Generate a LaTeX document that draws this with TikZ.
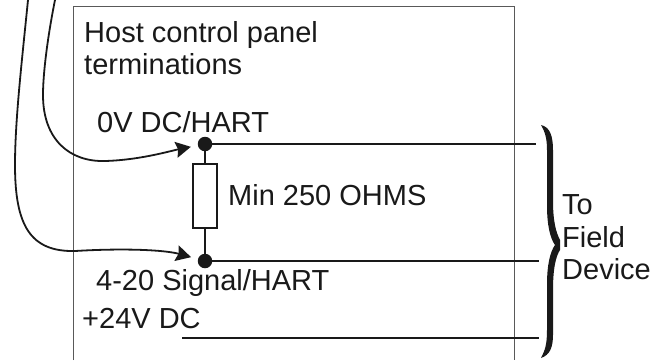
\documentclass[tikz,border=0pt]{standalone}
\usepackage{fontspec}
\setmainfont{Liberation Sans}
\usetikzlibrary{arrows.meta}
\tikzset{
    wire/.style={line width=1.8pt,color=black!90},
    lead/.style={line width=1.8pt,color=black!90,-{Stealth[length=15pt,width=16pt,inset=2pt]},shorten >=7pt},
    term/.style={circle,fill=black!90,inner sep=0pt,minimum size=14.5pt},
    label/.style={anchor=base west,inner sep=0pt,color=black!90,font=\fontsize{29}{32}\selectfont},
    res/.style={draw=black!90,line width=1.8pt,fill=white,inner sep=0pt,minimum width=24pt,minimum height=64pt}
}
\begin{document}
\begin{tikzpicture}[x=1pt,y=-1pt]
        \useasboundingbox (0,0) rectangle (665,360);
        \draw[line width=0.9pt,color=black!65] (73,360) -- (73,6) -- (514,6) -- (514,360);
        \node[label] (title) at (84,42) {Host control panel};
        \node[label] (title2) at (84,74) {terminations};
        \node[label] (zero) at (97,132) {0V DC/HART};
        \node[label] (signal) at (96,290) {4-20 Signal/HART};
        \node[label] (plus) at (82,328) {+24V DC};
        \node[label] (min) at (228,205) {Min 250 OHMS};
        \node[label] (to) at (562,214) {To};
        \node[label] (field) at (562,247) {Field};
        \node[label] (device) at (562,279) {Device};
        % terminals and resistor
        \node[term] (top) at (205,144) {};
        \node[term] (bot) at (205,261) {};
        \node[res] (r) at (205,196) {};
        \draw[wire] (top) -- (r); \draw[wire] (r) -- (bot);
        \coordinate (topend) at (536,144);
        \coordinate (botend) at (539,261);
        \coordinate (plusstart) at (182,338);
        \coordinate (plusend) at (539,338);
        \draw[wire] (top) -- (topend);
        \draw[wire] (bot) -- (botend);
        \draw[wire] (plusstart) -- (plusend);
        % incoming leads
        \coordinate (leada) at (55,0);
        \coordinate (leadb) at (28,0);
        \draw[lead] (leada) .. controls (47,40) and (43,75) .. (43,95) .. controls (43,140) and (70,162) .. (105,161) .. controls (140,160) and (170,151) .. (top);
        \draw[lead] (leadb) .. controls (22,60) and (15,120) .. (15,165) .. controls (15,225) and (30,252) .. (75,251) .. controls (125,248) and (165,250) .. (bot);
        % brace
        \fill[color=black!90] (541,125) .. controls (550,127) and (553,136) .. (553,150) -- (553,200) .. controls (553,222) and (556,232) .. (560,240) -- (560,250) .. controls (556,256) and (553,268) .. (553,290) -- (553,335) .. controls (553,347) and (550,355) .. (541,358) .. controls (545,350) and (547,345) .. (547,330) -- (547,285) .. controls (547,265) and (550,252) .. (555,245) .. controls (550,238) and (547,225) .. (547,205) -- (547,150) .. controls (547,138) and (545,132) .. (541,125) -- cycle;
    \end{tikzpicture}
\end{document}
